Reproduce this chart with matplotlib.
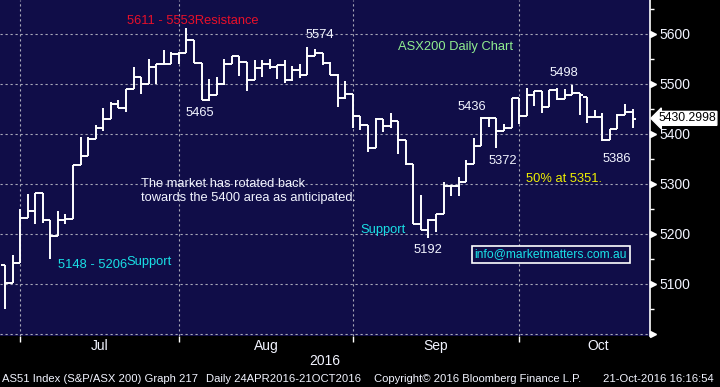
import numpy as np
import matplotlib
matplotlib.use("Agg")
import matplotlib.pyplot as plt
from matplotlib.transforms import blended_transform_factory

plt.rcParams['font.family'] = ['Liberation Sans', 'DejaVu Sans']

# daily OHLC, AS51 29-Jun-2016 .. 21-Oct-2016
opens = [5137, 5102, 5142, 5232, 5245, 5282, 5228, 5196, 5228, 5230,
         5337, 5355, 5389, 5412, 5430, 5459, 5452, 5490, 5513, 5499,
         5533, 5540, 5540, 5559, 5562, 5587, 5541, 5467, 5477, 5500,
         5539, 5555, 5543, 5508, 5531, 5540, 5534, 5537, 5508, 5528,
         5517, 5555, 5562, 5542, 5517, 5471, 5480, 5435, 5417, 5372,
         5430, 5415, 5425, 5387, 5340, 5220, 5208, 5228, 5240, 5295,
         5295, 5303, 5340, 5375, 5432, 5432, 5405, 5412, 5472, 5435,
         5477, 5485, 5453, 5487, 5469, 5477, 5481, 5473, 5433, 5433,
         5388, 5410, 5437, 5443]
highs = [5137, 5157, 5249, 5279, 5282, 5282, 5228, 5245, 5239, 5337,
         5393, 5393, 5417, 5452, 5463, 5467, 5490, 5533, 5513, 5550,
         5540, 5567, 5563, 5563, 5611, 5588, 5541, 5510, 5513, 5550,
         5555, 5555, 5543, 5548, 5548, 5550, 5538, 5547, 5535, 5539,
         5574, 5570, 5562, 5543, 5519, 5505, 5480, 5435, 5417, 5432,
         5430, 5441, 5425, 5387, 5340, 5277, 5230, 5240, 5303, 5298,
         5313, 5348, 5392, 5433, 5433, 5432, 5420, 5472, 5472, 5492,
         5485, 5485, 5487, 5492, 5490, 5498, 5481, 5473, 5448, 5441,
         5410, 5439, 5459, 5449]
lows = [5050, 5102, 5142, 5232, 5220, 5222, 5150, 5196, 5219, 5230,
        5337, 5355, 5389, 5405, 5430, 5452, 5443, 5490, 5480, 5499,
        5500, 5540, 5540, 5540, 5562, 5541, 5467, 5465, 5477, 5498,
        5539, 5515, 5485, 5508, 5513, 5530, 5510, 5501, 5505, 5512,
        5517, 5555, 5537, 5517, 5453, 5470, 5412, 5408, 5363, 5372,
        5403, 5412, 5360, 5337, 5220, 5208, 5192, 5203, 5240, 5275,
        5275, 5303, 5340, 5375, 5413, 5372, 5405, 5412, 5419, 5435,
        5455, 5441, 5453, 5467, 5469, 5477, 5437, 5422, 5432, 5386,
        5388, 5410, 5437, 5412]
closes = [5102, 5142, 5232, 5245, 5282, 5228, 5196, 5228, 5230, 5337,
          5355, 5389, 5412, 5430, 5459, 5452, 5490, 5513, 5499, 5533,
          5540, 5540, 5559, 5562, 5587, 5541, 5467, 5477, 5500, 5539,
          5555, 5543, 5508, 5531, 5540, 5534, 5537, 5508, 5528, 5517,
          5555, 5562, 5542, 5517, 5471, 5480, 5435, 5417, 5372, 5430,
          5415, 5425, 5387, 5340, 5220, 5208, 5228, 5240, 5295, 5295,
          5303, 5340, 5375, 5432, 5432, 5405, 5412, 5472, 5435, 5477,
          5485, 5453, 5487, 5469, 5477, 5481, 5478, 5433, 5433, 5388,
          5410, 5437, 5443, 5430]

month_names = ['Jul', 'Aug', 'Sep', 'Oct']
month_start = [2, 23, 46, 68]        # bar index of first trading day
month_mid = [12.5, 34.5, 57, 78.5]
price_major = [5000, 5100, 5200, 5300, 5400, 5500, 5600]
price_minor = [5050, 5150, 5250, 5350, 5450, 5550, 5650]
last_price = 5430.2998

navy = '#100d48'
white = '#f2f4ff'
cyan = '#19e0e6'
fs = 9.3

fig = plt.figure(figsize=(7.2, 3.87), dpi=100, facecolor='black')
ax = fig.add_axes([0, 1 - 335.5 / 387, 650 / 720, 335.5 / 387])
ax.set_facecolor(navy)

x = np.arange(len(closes))
ax.vlines(x, lows, highs, color='white', lw=1.4)
ax.hlines(opens, x - 0.5, x, color='white', lw=1.4)
ax.hlines(closes, x, x + 0.5, color='white', lw=1.4)

ax.set_xlim(-0.66, 85.3)
ax.set_ylim(4996, 5667)

ax.set_xticks(month_start)
ax.set_xticklabels([])
ax.set_yticks(price_major)
ax.set_yticks(price_minor, minor=True)
ax.set_yticklabels([''] + [str(p) for p in price_major[1:]])
ax.yaxis.tick_right()
ax.grid(True, which='major', color='#a8a8b8', linestyle=(0, (2, 2.5)), lw=0.8)
ax.tick_params(axis='x', colors='white', length=4, width=1, direction='out')
ax.tick_params(axis='y', which='major', colors=white, length=0, pad=6.5,
               labelsize=10)
ax.tick_params(axis='y', which='minor', colors='white', length=3, width=1)
for s in ['top', 'left', 'bottom']:
    ax.spines[s].set_visible(False)
ax.spines['right'].set_color('white')
ax.spines['right'].set_linewidth(1.2)

ytr = ax.get_yaxis_transform()
ax.plot([1.005] * len(price_major), price_major, linestyle='none', marker='>',
        markersize=4.5, color='white', transform=ytr, clip_on=False)
ax.text(1.0125, last_price, '5430.2998', transform=ytr, color='black',
        fontsize=8.8, va='center', ha='left', clip_on=False,
        bbox=dict(boxstyle='larrow,pad=0.08', fc='white', ec='white'))

# annotations
ax.text(16.1, 5625, '5611 - 5553Resistance', color='#e8102a', fontsize=fs, va='center')
ax.text(41.7, 5597, '5574', color=white, fontsize=fs, va='center', ha='center')
ax.text(52, 5573, 'ASX200 Daily Chart', color='#90ee90', fontsize=fs, va='center')
ax.text(23.9, 5441, '5465', color=white, fontsize=fs, va='center')
ax.text(72, 5521, '5498', color=white, fontsize=fs, va='center')
ax.text(59.8, 5453, '5436', color=white, fontsize=fs, va='center')
ax.text(63.9, 5345, '5372', color=white, fontsize=fs, va='center')
ax.text(79, 5349, '5386', color=white, fontsize=fs, va='center')
ax.text(68.9, 5309, '50% at 5351.', color='#f0f000', fontsize=fs, va='center')
ax.text(18, 5285, 'The market has rotated back\ntowards the 5400 area as anticipated.',
        color=white, fontsize=fs, va='center', linespacing=1.2)
ax.text(47, 5207, 'Support', color=cyan, fontsize=fs, va='center')
ax.text(54, 5167, '5192', color=white, fontsize=fs, va='center')
ax.text(7, 5137, '5148 - 5206', color=cyan, fontsize=fs, va='center')
ax.text(16.1, 5143, 'Support', color=cyan, fontsize=fs, va='center')
ax.text(62.1, 5158, 'info@marketmatters.com.au', color=cyan, fontsize=8.7,
        va='center', bbox=dict(boxstyle='square,pad=0.22', fc=navy, ec='white', lw=1.2))

# month labels under the axis
btr = blended_transform_factory(ax.transData, fig.transFigure)
for m, xm in zip(month_names, month_mid):
    ax.text(xm, 1 - 346 / 387, m, transform=btr, color=white, fontsize=10,
            ha='center', va='center')
fig.text(325 / 720, 1 - 361 / 387, '2016', color=white, fontsize=10,
         ha='center', va='center')

footer_y = 1 - 379 / 387
fig.text(2 / 720, footer_y, 'AS51 Index (S&P/ASX 200) Graph 217', color=white,
         fontsize=8.1, va='center')
fig.text(206 / 720, footer_y, 'Daily 24APR2016-21OCT2016', color=white,
         fontsize=8.1, va='center')
fig.text(374 / 720, footer_y, 'Copyright\u00a9 2016 Bloomberg Finance L.P.',
         color=white, fontsize=8.1, va='center')
fig.text(603 / 720, footer_y, '21-Oct-2016 16:16:54', color=white,
         fontsize=8.1, va='center')

fig.savefig('out.png', dpi=100, facecolor='black')
